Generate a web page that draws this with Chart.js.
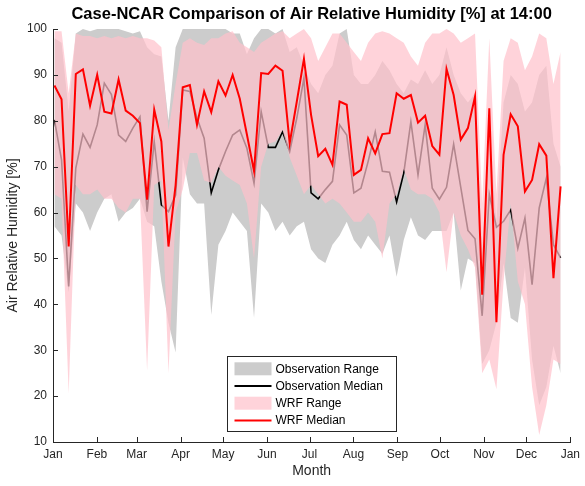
<!DOCTYPE html>
<html>
<head>
<meta charset="utf-8">
<script src="https://cdn.jsdelivr.net/npm/chart.js@4.4.0/dist/chart.umd.min.js"></script>
<style>
  html, body { margin: 0; padding: 0; background: #fff; }
</style>
</head>
<body>
<canvas id="graph" width="585" height="486"></canvas>
<script>
var monthNames = ["Jan", "Feb", "Mar", "Apr", "May", "Jun", "Jul", "Aug", "Sep", "Oct", "Nov", "Dec", "Jan"];
var monthStarts = [0, 31, 59, 90, 120, 151, 181, 212, 243, 273, 304, 334, 365];

// 5-day values at 14:00
var wrfMedian = [87.7, 84.7, 52.6, 90.2, 91.2, 83.3, 90.0, 82.0, 81.6, 89.0, 82.2, 81.1, 79.5, 62.8, 82.4, 75.5, 52.6, 66.0, 87.3,
    87.8, 79.1, 86.4, 81.9, 88.6, 85.5, 90.0, 84.8, 77.0, 69.0, 90.4, 90.2, 92.0, 90.9, 75.1, 84.2, 93.5, 81.3,
    72.3, 73.9, 70.4, 84.2, 83.5, 68.2, 69.3, 76.2, 72.9, 77.1, 77.3, 86.0, 84.8, 85.6, 79.6, 81.1, 74.5,
    72.6, 91.3, 85.6, 75.9, 78.4, 85.3, 42.1, 82.7, 36.1, 72.6, 81.4, 78.8, 64.6, 67.1, 74.9, 72.4, 45.7, 65.7];
var wrfMax = [99.5, 99.5, 86, 99, 98.5, 98.5, 98, 98.5, 98, 98.5, 98, 98.5, 98, 98, 97.5, 96, 78, 88, 97,
    98, 97, 96.5, 98, 98, 99, 99.5, 97, 96, 95, 97, 98, 99, 99.5, 98, 99, 100, 98,
    93, 96, 99, 99, 97, 95, 93, 97, 99, 99.5, 99, 98, 97, 94, 92, 97, 99,
    99, 100, 99, 97, 98, 99, 62, 98, 64, 93, 98, 97, 91, 94, 99, 98, 88, 95];
var wrfMin = [64, 63, 20.5, 66, 64, 64, 65, 63, 63, 61, 60, 63, 63, 25.5, 66, 67, 25, 60, 65,
    73, 73, 67, 66.5, 70, 68, 67, 66, 62, 50, 70, 75, 75.5, 78, 72, 68, 64, 66,
    64, 62, 63, 62, 60, 58, 58, 60, 58, 50, 62, 64, 69.5, 65, 64, 64, 63,
    60, 47, 60, 55, 52, 48, 25, 28, 21.5, 45, 62, 45, 40, 22, 11.5, 18, 28, 27];
var obsMedian = [80.2, 71.5, 43.9, 69.7, 77.1, 74.2, 79.1, 88.2, 85.7, 76.9, 75.5, 78.4, 80.9, 60.2, 75.5, 61.7, 60.2, 63.8, 86.7,
    86.4, 80.6, 76.2, 64.3, 69.3, 73.3, 76.9, 78.0, 74.0, 66.4, 82.0, 74.2, 74.2, 77.6, 73.3, 80.6, 89.3, 64.3,
    63.0, 65.0, 66.8, 79.1, 76.9, 64.3, 65.3, 71.1, 77.6, 69.0, 68.8, 62.3, 68.6, 79.8, 68.2, 79.1, 65.3,
    62.9, 65.5, 74.9, 65.5, 56.1, 54.3, 37.5, 64.0, 56.8, 58.1, 60.6, 52.2, 58.8, 44.3, 61.0, 67.5, 53.0, 50.1];
var obsMax = [98, 97, 82, 99, 100, 99.5, 100, 100, 100, 100, 99.5, 99, 99.5, 96, 94.5, 94, 80, 96, 100,
    100, 100, 100, 100, 100, 100, 99, 99, 94.5, 98, 100, 100, 99, 100, 95, 96, 92, 88,
    86, 90, 92, 99, 100, 90, 88, 88, 90, 93, 91, 88, 86, 89, 88, 91, 88,
    90, 96, 90, 86, 84, 86, 52, 78, 58, 84, 90, 88, 82, 84, 90, 92, 75, 70];
var obsMin = [57, 55, 42.5, 62, 60, 56, 60, 63, 64, 58, 60, 61, 63, 58, 57, 45, 36, 29.5, 72,
    64, 62, 62, 37.7, 53, 56, 60, 58, 56, 37, 62, 60, 56, 58, 55, 57, 58, 52,
    50, 49, 53, 55, 58, 54, 52, 55, 53, 51, 55, 46, 54, 59, 55, 54, 56,
    56, 56, 60, 43, 50, 49, 27, 30, 36, 49, 37, 36, 48, 28, 18, 22, 31, 25];

// day of year of each 5-day sample
var dayOfYear = obsMedian.map(function (v, i) { return 1 + i * 5.03; });

var axisColor = "#262626";
var grayFill = "#cccccc";
var pinkFill = "rgba(255, 192, 203, 0.7)";
Chart.defaults.font.family = '"Liberation Sans", Arial, Helvetica, sans-serif';

function points(arr) {
    return arr.map(function (v, i) { return { x: dayOfYear[i], y: v }; });
}

function lineSet(label, arr, color, width, extra) {
    var ds = {
        label: label,
        data: points(arr),
        borderColor: color,
        borderWidth: width,
        pointRadius: 0,
        tension: 0,
        fill: false
    };
    for (var k in extra) ds[k] = extra[k];
    return ds;
}

// index 0 is drawn on top, last index at the bottom
var datasets = [
    lineSet("WRF Median", wrfMedian, "#ff0000", 2, { legendRank: 3, legendKind: "line" }),
    lineSet("WRF Range", wrfMax, "rgba(0,0,0,0)", 0, { fill: "+1", backgroundColor: pinkFill, legendRank: 2, legendKind: "box" }),
    lineSet("WRF Min", wrfMin, "rgba(0,0,0,0)", 0, {}),
    lineSet("Observation Median", obsMedian, "#000000", 1.6, { legendRank: 1, legendKind: "line" }),
    lineSet("Observation Range", obsMax, "rgba(0,0,0,0)", 0, { fill: "+1", backgroundColor: grayFill, legendRank: 0, legendKind: "box" }),
    lineSet("Observation Min", obsMin, "rgba(0,0,0,0)", 0, {})
];

var titlePlugin = {
    id: "plotTitle",
    afterDraw: function (chart) {
        var ctx = chart.ctx, a = chart.chartArea;
        ctx.save();
        ctx.font = 'bold 16.5px "Liberation Sans", Arial, sans-serif';
        ctx.fillStyle = "#000";
        ctx.textAlign = "center";
        ctx.textBaseline = "middle";
        ctx.fillText("Case-NCAR Comparison of Air Relative Humidity [%] at 14:00", (a.left + a.right) / 2, 14);
        ctx.restore();
    }
};

var tickPlugin = {
    id: "innerTicks",
    afterDraw: function (chart) {
        var ctx = chart.ctx, a = chart.chartArea;
        var xs = chart.scales.x, ys = chart.scales.y;
        ctx.save();
        ctx.strokeStyle = axisColor;
        ctx.lineWidth = 1;
        ctx.beginPath();
        xs.ticks.forEach(function (t) {
            var px = Math.round(xs.getPixelForValue(t.value)) + 0.5;
            ctx.moveTo(px, a.bottom);
            ctx.lineTo(px, a.bottom - 5);
        });
        ys.ticks.forEach(function (t) {
            var py = Math.round(ys.getPixelForValue(t.value)) + 0.5;
            ctx.moveTo(a.left, py);
            ctx.lineTo(a.left + 5, py);
        });
        ctx.stroke();
        ctx.restore();
    }
};

var legendPlugin = {
    id: "boxLegend",
    afterDraw: function (chart) {
        var ctx = chart.ctx, a = chart.chartArea;
        var items = chart.data.datasets.filter(function (d) { return d.legendKind; })
            .sort(function (p, q) { return p.legendRank - q.legendRank; });
        var w = 169, h = 75;
        var left = Math.round((a.left + a.right) / 2 - w / 2) + 0.5;
        var top = Math.round(a.bottom - 11 - h) + 0.5;
        ctx.save();
        ctx.fillStyle = "#fff";
        ctx.fillRect(left, top, w, h);
        ctx.strokeStyle = axisColor;
        ctx.lineWidth = 1;
        ctx.strokeRect(left, top, w, h);
        ctx.font = '12px "Liberation Sans", Arial, sans-serif';
        ctx.textBaseline = "middle";
        ctx.textAlign = "left";
        items.forEach(function (d, i) {
            var cy = top + 12.3 + i * 17.2;
            if (d.legendKind === "box") {
                ctx.fillStyle = d.backgroundColor;
                ctx.fillRect(left + 7, cy - 6.5, 37, 13);
            } else {
                ctx.strokeStyle = d.borderColor;
                ctx.lineWidth = 2;
                ctx.beginPath();
                ctx.moveTo(left + 7, cy);
                ctx.lineTo(left + 44, cy);
                ctx.stroke();
            }
            ctx.fillStyle = "#000";
            ctx.fillText(d.label, left + 48, cy + 0.5);
        });
        ctx.restore();
    }
};

var ctx = document.getElementById("graph").getContext("2d");
var chart = new Chart(ctx, {
    type: "line",
    data: { datasets: datasets },
    options: {
        responsive: false,
        animation: false,
        devicePixelRatio: 1,
        layout: { padding: { top: 29, right: 12, left: 0, bottom: 0 } },
        plugins: {
            legend: { display: false },
            title: { display: false },
            tooltip: { enabled: false },
            filler: { propagate: false }
        },
        scales: {
            x: {
                type: "linear",
                min: 0,
                max: 365,
                afterBuildTicks: function (s) {
                    s.ticks = monthStarts.map(function (v) { return { value: v }; });
                },
                afterFit: function (s) { s.height = 44; },
                ticks: {
                    autoSkip: false,
                    maxRotation: 0,
                    padding: 5,
                    color: axisColor,
                    font: { size: 12 },
                    callback: function (v) { return monthNames[monthStarts.indexOf(v)]; }
                },
                grid: { drawOnChartArea: false, drawTicks: false },
                border: { display: true, color: axisColor, width: 1 },
                title: { display: true, text: "Month", color: axisColor, font: { size: 14 }, padding: { top: 0, bottom: 6 } }
            },
            y: {
                min: 10,
                max: 100,
                afterFit: function (s) { s.width = 53; },
                ticks: { stepSize: 10, padding: 6, color: axisColor, font: { size: 12 } },
                grid: { drawOnChartArea: false, drawTicks: false },
                border: { display: true, color: axisColor, width: 1 },
                title: { display: true, text: "Air Relative Humidity [%]", color: axisColor, font: { size: 14 }, padding: { top: 5, bottom: 0 } }
            }
        }
    },
    plugins: [titlePlugin, tickPlugin, legendPlugin]
});
</script>
</body>
</html>
